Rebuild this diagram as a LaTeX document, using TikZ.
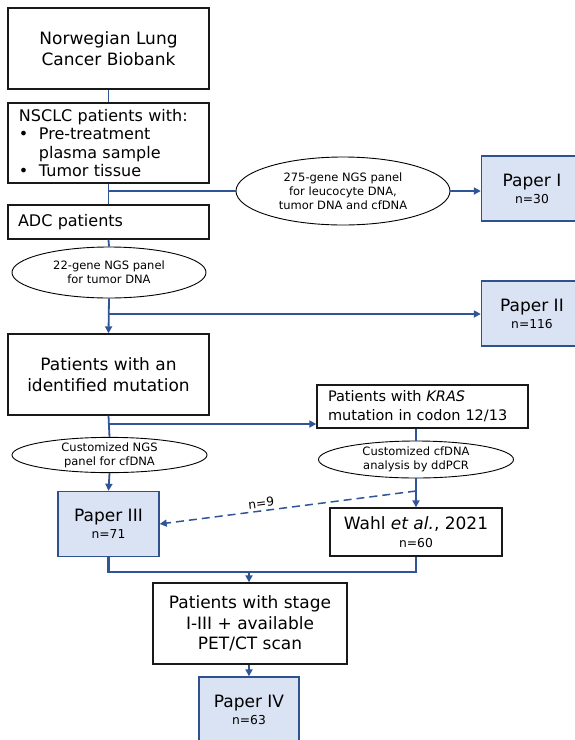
\documentclass[tikz,border=0pt]{standalone}
\usepackage{fontspec}
\setmainfont{DejaVu Sans}
\usetikzlibrary{arrows.meta,shapes.geometric,calc}
\definecolor{lineblue}{HTML}{2F5597}
\definecolor{paperfill}{HTML}{DAE3F3}
\definecolor{paperedge}{HTML}{2F528F}
\tikzset{
  box/.style={draw=black!90,line width=1.4pt,fill=white,inner sep=0pt,align=center,font=\fontsize{17}{21}\selectfont},
  paper/.style={draw=paperedge,line width=1.4pt,fill=paperfill,inner sep=0pt,align=center,minimum width=101pt,minimum height=65pt,font=\fontsize{17}{16.8}\selectfont},
  oval/.style={ellipse,draw=black,line width=0.9pt,fill=white,inner sep=0pt,align=center,font=\fontsize{11.5}{13.8}\selectfont},
  conn/.style={draw=lineblue,line width=1.8pt},
  arr/.style={conn,-{Triangle[length=7pt,width=7pt]}},
  thickconn/.style={draw=lineblue,line width=2.6pt},
}
\newcommand{\ptitle}[2]{#1\\{\fontsize{12.3}{14}\selectfont #2}}
\begin{document}
\begin{tikzpicture}[x=1pt,y=-1pt]
\useasboundingbox (0,0) rectangle (575,740);
\clip (0,0) rectangle (575,740);
% boxes
\node[box,minimum width=201pt,minimum height=81pt] (b1) at (108.5,48.5) {Norwegian Lung\\Cancer Biobank};
\node[box,minimum width=201pt,minimum height=80pt,align=left,text width=179pt,inner xsep=11pt,font=\fontsize{16}{18.6}\selectfont] (b2) at (108.5,143)
  {NSCLC patients with:\\\makebox[20pt][l]{•}Pre-treatment\\\makebox[20pt][l]{}plasma sample\\\makebox[20pt][l]{•}Tumor tissue};
\node[box,minimum width=201pt,minimum height=34pt,align=left,text width=181pt,inner xsep=10pt,font=\fontsize{16}{19}\selectfont] (b3) at (108.5,222) {ADC patients};
\node[oval,minimum width=214pt,minimum height=68pt] (e275) at (343,191) {275-gene NGS panel\\for leucocyte DNA,\\tumor DNA and cfDNA};
\node[paper] (p1) at (532,188.5) {\ptitle{Paper I}{n=30}};
\node[oval,minimum width=194pt,minimum height=51pt] (e22) at (109,272.5) {22-gene NGS panel\\for tumor DNA};
\node[paper] (p2) at (532,313.5) {\ptitle{Paper II}{n=116}};
\node[box,minimum width=201pt,minimum height=81pt] (b4) at (108.5,374.5) {Patients with an\\identified mutation};
\node[box,minimum width=211pt,minimum height=43pt,align=left,text width=189pt,inner xsep=11pt,font=\fontsize{14.5}{19}\selectfont] (kras) at (422.5,406.5) {Patients with \textit{KRAS}\\mutation in codon 12/13};
\node[oval,minimum width=195pt,minimum height=34pt] (engs) at (109.5,455) {Customized NGS\\panel for cfDNA};
\node[oval,minimum width=195pt,minimum height=37pt] (edd) at (416,459.5) {Customized cfDNA\\analysis by ddPCR};
\node[paper] (p3) at (108.5,524) {\ptitle{Paper III}{n=71}};
\node[box,minimum width=172pt,minimum height=48pt,font=\fontsize{17}{18}\selectfont] (wahl) at (416,532) {Wahl \textit{et al.}, 2021\\{\fontsize{12.3}{14}\selectfont n=60}};
\node[box,minimum width=194pt,minimum height=81pt,font=\fontsize{17}{20.5}\selectfont] (stage) at (250,623.5) {Patients with stage\\I-III + available\\PET/CT scan};
\node[paper,minimum width=100pt] (p4) at (249,709.5) {\ptitle{Paper IV}{n=63}};
% junction coordinates
\coordinate (j1) at (b2.south |- e275.west);
\coordinate (j2) at (108.5,314);
\coordinate (j3) at (108.5,424);
\coordinate (jd) at (416,491);
\coordinate (jb) at (249,572);
% connectors
\draw[conn] (b1.south) -- (b2.north);
\draw[conn] (b2.south) -- (b3.north);
\draw[conn] (j1) -- (e275.west);
\draw[arr] (e275.east) -- (e275.east -| p1.west);
\draw[conn] (b3.south) -- (e22.north);
\draw[arr] (e22.south) -- (b4.north);
\draw[arr] (j2) -- (j2 -| p2.west);
\draw[conn] (b4.south) -- (engs.north);
\draw[arr] (j3) -- (j3 -| kras.west);
\draw[arr] (engs.south) -- (p3.north);
\draw[conn] (kras.south -| edd.north) -- (edd.north);
\draw[arr] (edd.south) -- (wahl.north);
\draw[arr,line width=1.5pt,dash pattern=on 8pt off 5pt] (jd) -- node[pos=0.6,above=-1pt,sloped,text=black,font=\fontsize{12.3}{14}\selectfont] (n9) {n=9} (p3.east);
\draw[thickconn] (p3.south) |- (jb) -| (wahl.south);
\draw[arr,line width=2pt] (jb) -- (jb |- stage.north);
\draw[arr,line width=2pt] (stage.south -| p4.north) -- (p4.north);
\end{tikzpicture}
\end{document}
